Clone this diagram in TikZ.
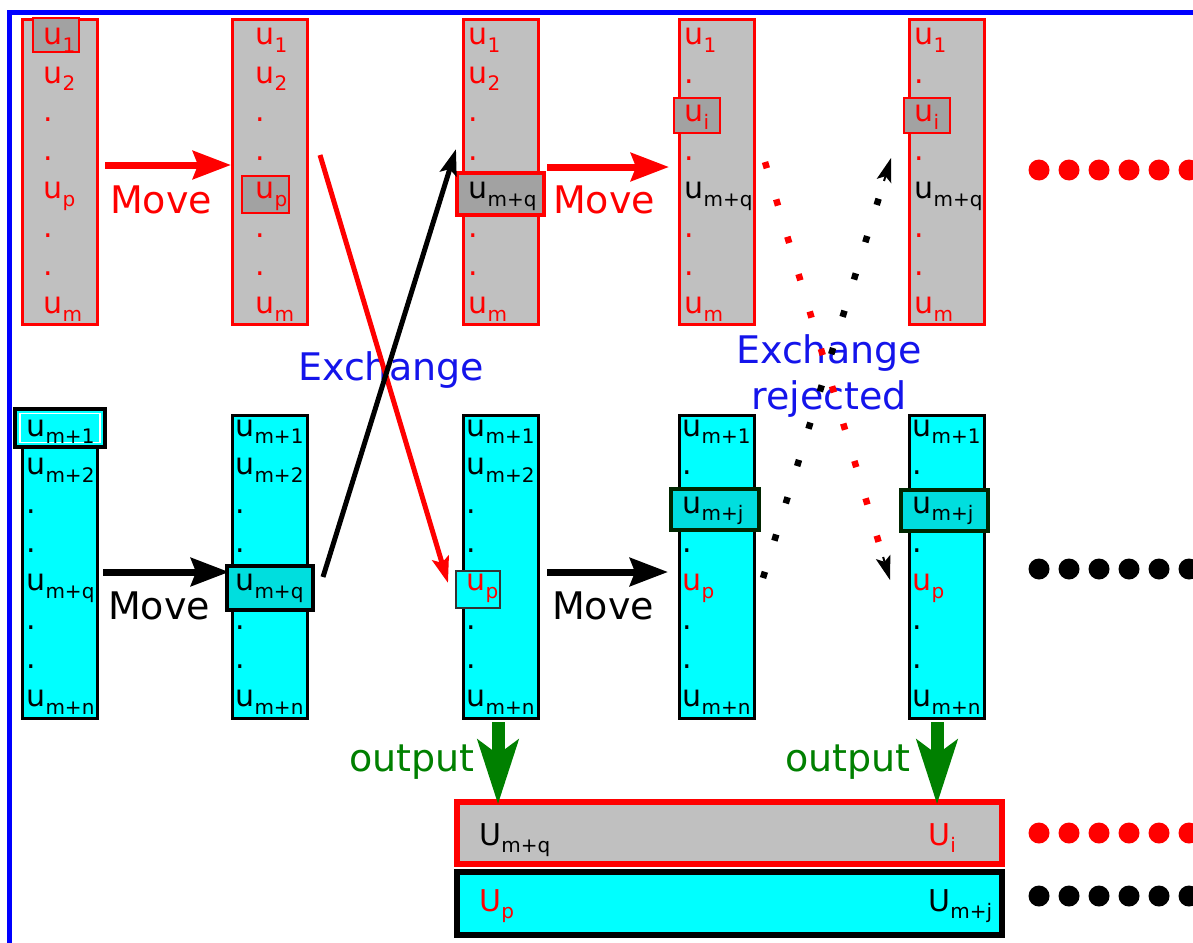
\documentclass[tikz,border=0pt]{standalone}
\usepackage{fontspec}
\setmainfont{DejaVu Sans}
\usetikzlibrary{arrows.meta,calc}
\definecolor{gfill}{RGB}{192,192,192}
\definecolor{gdark}{RGB}{162,162,162}
\definecolor{cy}{RGB}{0,255,255}
\definecolor{cydark}{RGB}{0,222,222}
\definecolor{outgreen}{RGB}{0,128,0}
\definecolor{myred}{RGB}{255,0,0}
\definecolor{myblue}{RGB}{0,0,255}
\definecolor{exblue}{RGB}{20,20,235}
\newcommand\Us[2]{#1\kern0.3pt\raisebox{-7.5pt}{\fontsize{20}{20}\selectfont #2}}
\tikzset{
  txt/.style={inner sep=0pt, anchor=base west, font=\fontsize{30}{31}\selectfont},
  lbl/.style={inner sep=0pt, anchor=base, font=\fontsize{38}{40}\selectfont},
  topcol/.style={draw=myred, fill=gfill, line width=3, minimum width=75, minimum height=304, inner sep=0},
  botcol/.style={draw=black, fill=cy, line width=3, minimum width=75, minimum height=303, inner sep=0},
  hlt/.style={draw=myred, fill=gdark, line width=2.5, inner sep=0},
  hlb/.style={draw=black, fill=cydark, line width=3.5, inner sep=0},
  movearrow/.style={line width=7, -{Stealth[length=38,width=28,inset=5]}},
  exarrow/.style={line width=5, -{Stealth[length=26,width=17,inset=5]}},
  dotline/.style={line width=6.5, dash pattern=on 6.5pt off 32.5pt},
  outarrow/.style={outgreen, line width=13, -{Stealth[length=64,width=40,inset=14]}},
  rdot/.style={circle, fill=myred, minimum size=21, inner sep=0},
  bdot/.style={circle, fill=black, minimum size=21, inner sep=0},
}
\begin{document}
\begin{tikzpicture}[x=1pt,y=-1pt]
\useasboundingbox (0,0) rectangle (1193,942);
\clip (0,0) rectangle (1193,942);
\fill[white] (0,0) rectangle (1193,942);
\draw[myblue, line width=4.5] (9.5,1000) -- (9.5,12.5) -- (1260,12.5);

% ---------- top columns ----------
\node[topcol] (T1) at (60,172) {};
\node[topcol] (T2) at (269.5,172) {};
\node[topcol] (T3) at (500.5,172) {};
\node[topcol] (T4) at (716.5,172) {};
\node[topcol] (T5) at (946.5,172) {};
\node[hlt, minimum width=46, minimum height=34] (T1h) at (56,35) {};
\node[hlt, minimum width=47, minimum height=37] (T2h) at (265.5,194.5) {};
\node[hlt, line width=4, minimum width=87, minimum height=42] (T3h) at (500.5,194) {};
\node[hlt, minimum width=46, minimum height=35] (T4h) at (697,115.5) {};
\node[hlt, minimum width=46, minimum height=35] (T5h) at (927,115.5) {};

% ---------- bottom columns ----------
\node[botcol] (B1) at (60,566.5) {};
\node[botcol] (B2) at (269.5,566.5) {};
\node[botcol] (B3) at (500.5,566.5) {};
\node[botcol] (B4) at (716.5,566.5) {};
\node[botcol] (B5) at (946.5,566.5) {};
\node[hlb, fill=cy, line width=4.5, minimum width=90, minimum height=38] (B1h) at (60,428) {};
\node[draw=white, line width=1.2, minimum width=80, minimum height=29, inner sep=0] (B1hi) at (60,428) {};
\node[hlb, line width=4, minimum width=86, minimum height=44] (B2h) at (270,588) {};
\node[hlb, fill=cy, draw=black!80, line width=2, minimum width=44, minimum height=37] (B3h) at (478,589.5) {};
\node[hlb, draw=black!85!green, minimum width=88, minimum height=41] (B4h) at (715,509.5) {};
\node[hlb, draw=black!85!green, minimum width=87, minimum height=41] (B5h) at (944.5,510.5) {};

% ---------- entries top ----------
\foreach \k/\t/\c in {0/{\Us u1}/myred,1/{\Us u2}/myred,2/./myred,3/./myred,4/{\Us up}/myred,5/./myred,6/./myred,7/{\Us um}/myred}{
  \node[txt,text=\c] (t1-\k) at (43,{45+38.4*\k}) {\t};
  \node[txt,text=\c] (t2-\k) at (255,{45+38.4*\k}) {\t};}
\foreach \k/\t/\c in {0/{\Us u1}/myred,1/{\Us u2}/myred,2/./myred,3/./myred,4/{\Us u{m+q}}/black,5/./myred,6/./myred,7/{\Us um}/myred}{
  \node[txt,text=\c] (t3-\k) at (468,{45+38.4*\k}) {\t};}
\foreach \k/\t/\c in {0/{\Us u1}/myred,1/./myred,2/{\Us ui}/myred,3/./myred,4/{\Us u{m+q}}/black,5/./myred,6/./myred,7/{\Us um}/myred}{
  \node[txt,text=\c] (t4-\k) at (684,{45+38.4*\k}) {\t};
  \node[txt,text=\c] (t5-\k) at (914,{45+38.4*\k}) {\t};}

% ---------- entries bottom ----------
\foreach \k/\t/\c in {0/{\Us u{m+1}}/black,1/{\Us u{m+2}}/black,2/./black,3/./black,4/{\Us u{m+q}}/black,5/./black,6/./black,7/{\Us u{m+n}}/black}{
  \node[txt,text=\c] (b1-\k) at (26,{436+38.7*\k}) {\t};
  \node[txt,text=\c] (b2-\k) at (235,{436+38.7*\k}) {\t};}
\foreach \k/\t/\c in {0/{\Us u{m+1}}/black,1/{\Us u{m+2}}/black,2/./black,3/./black,4/{\Us up}/myred,5/./black,6/./black,7/{\Us u{m+n}}/black}{
  \node[txt,text=\c] (b3-\k) at (466,{436+38.7*\k}) {\t};}
\foreach \k/\t/\c in {0/{\Us u{m+1}}/black,1/./black,2/{\Us u{m+j}}/black,3/./black,4/{\Us up}/myred,5/./black,6/./black,7/{\Us u{m+n}}/black}{
  \node[txt,text=\c] (b4-\k) at (682,{436+38.7*\k}) {\t};
  \node[txt,text=\c] (b5-\k) at (912,{436+38.7*\k}) {\t};}

% ---------- Move arrows ----------
\coordinate (m1a) at (105,165); \coordinate (m1b) at (231,165);
\coordinate (m2a) at (547,167); \coordinate (m2b) at (669,167);
\coordinate (m3a) at (103,572); \coordinate (m3b) at (229,572);
\coordinate (m4a) at (547,572); \coordinate (m4b) at (668,572);
\draw[movearrow, myred] (m1a) -- (m1b);
\draw[movearrow, myred] (m2a) -- (m2b);
\draw[movearrow, black] (m3a) -- (m3b);
\draw[movearrow, black] (m4a) -- (m4b);
\node[lbl, text=myred] (mv1) at (161,213) {Move};
\node[lbl, text=myred] (mv2) at (604,213) {Move};
\node[lbl, text=black] (mv3) at (159,619) {Move};
\node[lbl, text=black] (mv4) at (603,619) {Move};

% ---------- Exchange ----------
\node[lbl, text=exblue] (ex1) at (391,380) {Exchange};
\coordinate (e1a) at (320,155); \coordinate (e1b) at (448,583);
\coordinate (e2a) at (323,577); \coordinate (e2b) at (456,149);
\draw[exarrow, myred] (e1a) -- (e1b);
\draw[exarrow, black] (e2a) -- (e2b);

% ---------- Exchange rejected ----------
\node[lbl, text=exblue] (ex2) at (829,363) {Exchange};
\node[lbl, text=exblue] (ex3) at (829,409) {rejected};
\coordinate (r1a) at (765,162); \coordinate (r1b) at (890,580);
\coordinate (r2a) at (763,578); \coordinate (r2b) at (891,158);
\draw[dotline, myred] (r1a) -- ($(r1b)!20pt!(r1a)$);
\draw[dotline, black] (r2a) -- ($(r2b)!20pt!(r2a)$);
\draw[black, line width=2, -{Stealth[length=24,width=15,inset=5]}] ($(r1b)!24pt!(r1a)$) -- (r1b);
\draw[black, line width=2, -{Stealth[length=24,width=15,inset=5]}] ($(r2b)!24pt!(r2a)$) -- (r2b);

% ---------- output ----------
\node[draw=myred, fill=gfill, line width=6, minimum width=545, minimum height=62, inner sep=0] (O1) at (729,832.5) {};
\node[draw=black, fill=cy, line width=6, minimum width=545, minimum height=63, inner sep=0] (O2) at (729,903.5) {};
\coordinate (oa1) at (498,722); \coordinate (oa2) at (937,722);
\draw[outarrow] (oa1) -- ($(oa1 |- O1.north)+(0,6)$);
\draw[outarrow] (oa2) -- ($(oa2 |- O1.north)+(0,6)$);
\node[lbl, text=outgreen] (out1) at (412,771) {output};
\node[lbl, text=outgreen] (out2) at (848,771) {output};
\node[txt, text=black] (U1) at (479,845) {\Us U{m+q}};
\node[txt, text=myred] (U2) at (928,845) {\Us Ui};
\node[txt, text=myred] (U3) at (479,911) {\Us Up};
\node[txt, text=black] (U4) at (928,911) {\Us U{m+j}};

% ---------- continuation dots ----------
\foreach \i in {0,...,5}{
  \node[rdot] (rd1-\i) at ({1039+30*\i},170) {};
  \node[bdot] (bd1-\i) at ({1039+30*\i},569) {};
  \node[rdot] (rd2-\i) at ({1039+30*\i},833) {};
  \node[bdot] (bd2-\i) at ({1039+30*\i},896) {};
}
\end{tikzpicture}
\end{document}
